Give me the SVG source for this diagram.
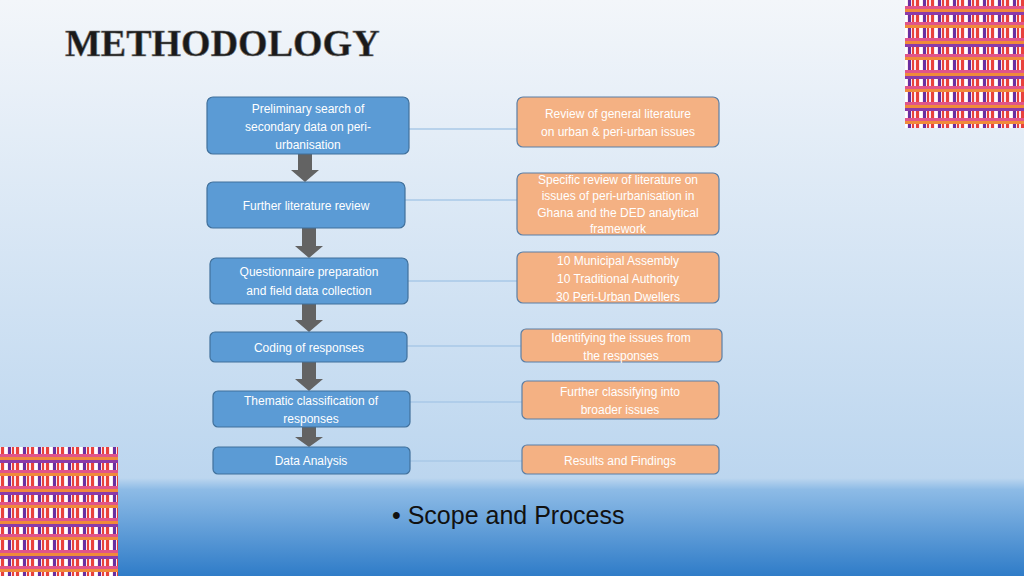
<svg xmlns="http://www.w3.org/2000/svg" width="1024" height="576" viewBox="0 0 1024 576">
<style>
.b{fill:#5b9bd5;stroke:#41719c;stroke-width:1.2}
.o{fill:#f4b183;stroke:#5b7fa6;stroke-width:1.2}
.t{font-family:"Liberation Sans",Arial,sans-serif;font-size:12px;fill:#fff;text-anchor:middle}
.l{stroke:#a9c9e8;stroke-width:1.5;fill:none}
.a{fill:#636363}
</style>
<defs>
<linearGradient id="bg" x1="0" y1="0" x2="0" y2="1">
<stop offset="0" stop-color="#f3f6fa"/>
<stop offset="0.83" stop-color="#bcd6ef"/>
<stop offset="0.85" stop-color="#8dbbe6"/>
<stop offset="1" stop-color="#2f7cc8"/>
</linearGradient>
<pattern id="weave" width="15" height="32" patternUnits="userSpaceOnUse">
<rect width="15" height="32" fill="#fbe8ee"/>
<rect x="1" width="3" height="32" fill="#e8413c"/>
<rect x="5" width="2" height="32" fill="#fff"/>
<rect x="8" width="3" height="32" fill="#6a2fa0"/>
<rect x="12" width="2" height="32" fill="#e8413c"/>
<rect x="0" y="6" width="15" height="3" fill="#e0548a"/>
<rect x="0" y="9" width="15" height="3" fill="#f08a3a"/>
<rect x="0" y="12" width="15" height="3" fill="#8b3aa8"/>
<rect x="0" y="22" width="15" height="3" fill="#e0548a"/>
<rect x="0" y="25" width="15" height="3" fill="#f08a3a"/>
</pattern>
</defs>
<rect width="1024" height="576" fill="url(#bg)"/>
<rect x="905" y="0" width="119" height="128" fill="url(#weave)"/>
<rect x="0" y="447" width="118" height="129" fill="url(#weave)"/>
<text x="65" y="56" font-family="Liberation Serif,serif" font-weight="bold" font-size="38" fill="#1a1a1a" stroke="#777" stroke-width="0.6">METHODOLOGY</text>
<g id="connectors">
<path class="l" d="M409 129H517M405 200H517M408 281H517M407 346H521M410 402H522M410 461H522"/>
<path class="a" d="M298 154h14v16h7l-14 12l-14-12h7z"/>
<path class="a" d="M302 228h14v18h7l-14 12l-14-12h7z"/>
<path class="a" d="M302 304h14v16h7l-14 12l-14-12h7z"/>
<path class="a" d="M302 362h14v17h7l-14 12l-14-12h7z"/>
<path class="a" d="M302 427h14v10h7l-14 10l-14-10h7z"/>
</g>
<g id="n1"><rect class="b" x="207" y="97" width="202" height="57" rx="6"/><text class="t" x="308" y="113">Preliminary search of</text><text class="t" x="308" y="131">secondary data on peri-</text><text class="t" x="308" y="149">urbanisation</text></g>
<g id="n2"><rect class="b" x="207" y="182" width="198" height="46" rx="6"/><text class="t" x="306" y="210">Further literature review</text></g>
<g id="n3"><rect class="b" x="210" y="258" width="198" height="46" rx="6"/><text class="t" x="309" y="276">Questionnaire preparation</text><text class="t" x="309" y="295">and field data collection</text></g>
<g id="n4"><rect class="b" x="210" y="332" width="197" height="30" rx="5"/><text class="t" x="309" y="352">Coding of responses</text></g>
<g id="n5"><rect class="b" x="213" y="391" width="197" height="36" rx="5"/><text class="t" x="311" y="405">Thematic classification of</text><text class="t" x="311" y="423">responses</text></g>
<g id="n6"><rect class="b" x="213" y="447" width="197" height="27" rx="5"/><text class="t" x="311" y="465">Data Analysis</text></g>
<g id="o1"><rect class="o" x="517" y="97" width="202" height="50" rx="6"/><text class="t" x="618" y="118">Review of  general literature</text><text class="t" x="618" y="136">on urban &amp; peri-urban issues</text></g>
<g id="o2"><rect class="o" x="517" y="173" width="202" height="62" rx="6"/><text class="t" font-size="11" x="618" y="184">Specific review of literature on</text><text class="t" font-size="11" x="618" y="200">issues of peri-urbanisation in</text><text class="t" font-size="11" x="618" y="217">Ghana and the DED  analytical</text><text class="t" font-size="11" x="618" y="233">framework</text></g>
<g id="o3"><rect class="o" x="517" y="252" width="202" height="51" rx="6"/><text class="t" x="618" y="265">10 Municipal Assembly</text><text class="t" x="618" y="283">10 Traditional Authority</text><text class="t" x="618" y="301">30 Peri-Urban Dwellers</text></g>
<g id="o4"><rect class="o" x="521" y="329" width="201" height="33" rx="5"/><text class="t" x="621" y="342">Identifying the issues from</text><text class="t" x="621" y="360">the responses</text></g>
<g id="o5"><rect class="o" x="522" y="381" width="197" height="38" rx="5"/><text class="t" x="620" y="396">Further classifying into</text><text class="t" x="620" y="414">broader issues</text></g>
<g id="o6"><rect class="o" x="522" y="445" width="197" height="29" rx="5"/><text class="t" x="620" y="465">Results and Findings</text></g>
<text x="392" y="524" font-family="Liberation Sans,Arial,sans-serif" font-size="25" fill="#111">• Scope and Process</text>
</svg>
